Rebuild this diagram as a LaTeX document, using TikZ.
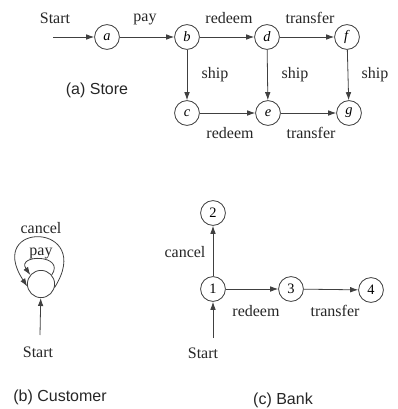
\documentclass[tikz,border=0pt]{standalone}
\usepackage{fontspec}
\setmainfont{Liberation Serif}
\newfontfamily\capfont{Liberation Sans}
\usetikzlibrary{arrows.meta}
\begin{document}
\begin{tikzpicture}[x=0.625pt,y=-0.625pt,
  st/.style={circle,draw=black!75,line width=0.5pt,minimum size=15.5pt,inner sep=0pt,font=\fontsize{9}{10}\selectfont},
  tr/.style={draw=black!75,line width=0.5pt,-{Latex[length=5pt,width=3.5pt]}},
  lbl/.style={font=\fontsize{10}{12}\selectfont,text=black!85},
  captxt/.style={font=\capfont\fontsize{10}{12}\selectfont,text=black!85}]
\useasboundingbox (0,0) rectangle (398,409);
% (a) Store
\node[st] (a) at (107,37) {\textit{a}};
\node[st] (b) at (187,37) {\textit{b}};
\node[st] (d) at (267,37) {\textit{d}};
\node[st] (f) at (347,37) {\textit{f}};
\node[st] (c) at (187,113) {\textit{c}};
\node[st] (e) at (268,113) {\textit{e}};
\node[st] (g) at (349,113) {\textit{g}};
\coordinate (sa) at (53,37);
\draw[tr] (sa) -- (a);
\draw[tr] (a) -- (b);
\draw[tr] (b) -- (d);
\draw[tr] (d) -- (f);
\draw[tr] (b) -- (c);
\draw[tr] (d) -- (e);
\draw[tr] (f) -- (g);
\draw[tr] (c) -- (e);
\draw[tr] (e) -- (g);
\node[lbl] (l1) at (55,18) {Start};
\node[lbl] (l2) at (145,19) {pay};
\node[lbl] (l3) at (229,18) {redeem};
\node[lbl] (l4) at (310,18) {transfer};
\node[lbl] (l5) at (215,75) {ship};
\node[lbl] (l6) at (295,75) {ship};
\node[lbl] (l7) at (375,75) {ship};
\node[lbl] (l8) at (230,133) {redeem};
\node[lbl] (l9) at (311,133) {transfer};
\node[captxt] (ca) at (97,90) {(a) Store};
% (b) Customer
\node[st,minimum size=17pt] (C) at (41,284) {};
\coordinate (sc) at (40,335);
\draw[tr] (sc) -- (C);
\draw[tr] (C.40) .. controls (66,254) and (16,254) .. (C.140);
\draw[tr] (C.-15) .. controls (96,222) and (-16,220) .. (C.190);
\node[lbl] (l10) at (41,253) {pay};
\node[lbl] (l11) at (41,228) {cancel};
\node[lbl] (l12) at (38,352) {Start};
\node[captxt] (cb) at (60,397) {(b) Customer};
% (c) Bank
\node[st] (n1) at (213,289) {1};
\node[st] (n2) at (213,213) {2};
\node[st] (n3) at (291,289) {3};
\node[st] (n4) at (371,290) {4};
\coordinate (sb) at (213,338);
\draw[tr] (sb) -- (n1);
\draw[tr] (n1) -- (n2);
\draw[tr] (n1) -- (n3);
\draw[tr] (n3) -- (n4);
\node[lbl] (l13) at (185,252) {cancel};
\node[lbl] (l14) at (256,311) {redeem};
\node[lbl] (l15) at (335,311) {transfer};
\node[lbl] (l16) at (203,353) {Start};
\node[captxt] (cc) at (283,400) {(c) Bank};
\end{tikzpicture}
\end{document}
